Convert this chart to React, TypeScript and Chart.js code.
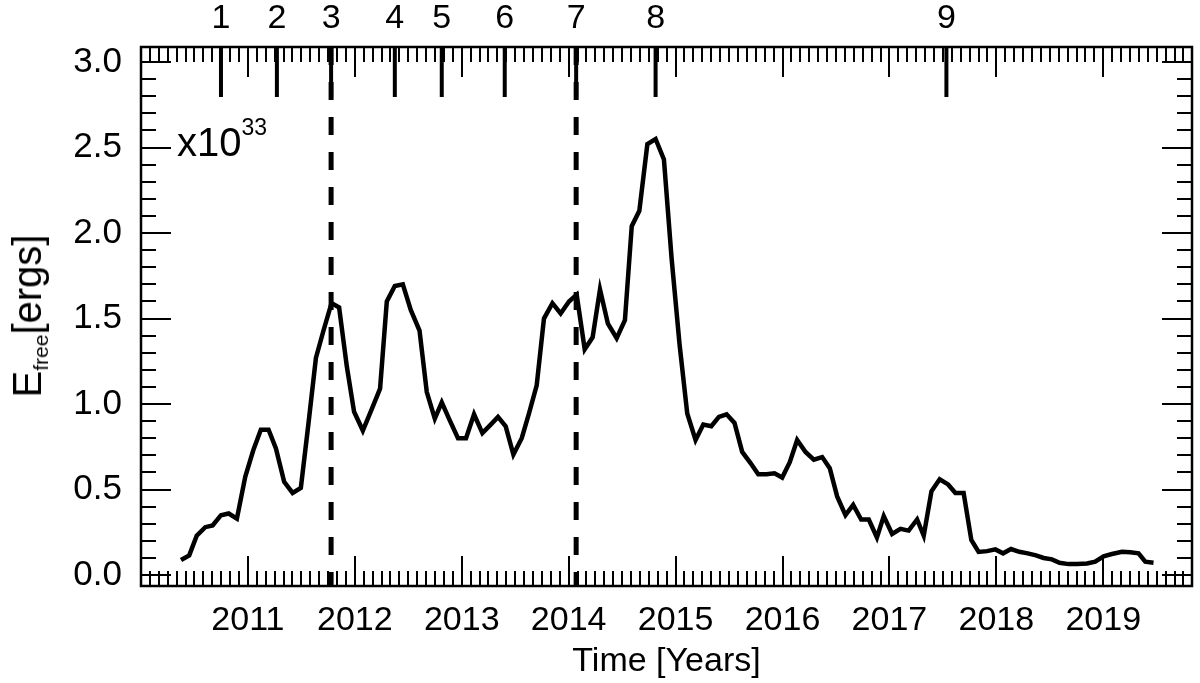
import React, { useEffect, useRef } from 'react';
import { Chart, registerables } from 'chart.js';

Chart.register(...registerables);

// ---- data ----
const years = [
  2010.374, 2010.451, 2010.521, 2010.601, 2010.670, 2010.748, 2010.820, 2010.897, 2010.975, 2011.050,
  2011.121, 2011.193, 2011.262, 2011.339, 2011.418, 2011.495, 2011.567, 2011.636, 2011.707, 2011.782,
  2011.853, 2011.925, 2011.993, 2012.075, 2012.165, 2012.236, 2012.299, 2012.374, 2012.449, 2012.523,
  2012.605, 2012.673, 2012.748, 2012.813, 2012.891, 2012.965, 2013.040, 2013.115, 2013.193, 2013.271,
  2013.339, 2013.411, 2013.483, 2013.561, 2013.629, 2013.701, 2013.769, 2013.848, 2013.925, 2014.003,
  2014.075, 2014.150, 2014.224, 2014.293, 2014.367, 2014.449, 2014.526, 2014.590, 2014.661, 2014.736,
  2014.813, 2014.891, 2014.963, 2015.037, 2015.109, 2015.187, 2015.259, 2015.334, 2015.405, 2015.477,
  2015.551, 2015.623, 2015.701, 2015.773, 2015.850, 2015.925, 2015.997, 2016.068, 2016.137, 2016.215,
  2016.293, 2016.371, 2016.442, 2016.511, 2016.589, 2016.661, 2016.736, 2016.807, 2016.883, 2016.947,
  2017.025, 2017.103, 2017.180, 2017.259, 2017.321, 2017.393, 2017.470, 2017.549, 2017.617, 2017.694,
  2017.766, 2017.834, 2017.913, 2017.991, 2018.063, 2018.137, 2018.215, 2018.293, 2018.371, 2018.442,
  2018.520, 2018.591, 2018.676, 2018.754, 2018.848, 2018.925, 2019.003, 2019.081, 2019.175, 2019.252,
  2019.330, 2019.393, 2019.470,
];

const efree = [
  0.088, 0.115, 0.23, 0.28, 0.29, 0.35, 0.36, 0.33, 0.575, 0.73,
  0.85, 0.85, 0.74, 0.545, 0.48, 0.51, 0.89, 1.27, 1.43, 1.59,
  1.565, 1.22, 0.955, 0.845, 0.98, 1.09, 1.60, 1.69, 1.70, 1.55,
  1.43, 1.07, 0.915, 1.01, 0.90, 0.80, 0.80, 0.94, 0.83, 0.88,
  0.925, 0.87, 0.705, 0.80, 0.945, 1.11, 1.50, 1.59, 1.53, 1.60,
  1.64, 1.32, 1.39, 1.67, 1.47, 1.385, 1.49, 2.04, 2.13, 2.52,
  2.55, 2.43, 1.85, 1.35, 0.945, 0.79, 0.88, 0.87, 0.925, 0.94,
  0.89, 0.72, 0.655, 0.59, 0.59, 0.595, 0.57, 0.66, 0.79, 0.72,
  0.675, 0.69, 0.625, 0.46, 0.35, 0.41, 0.325, 0.325, 0.22, 0.345,
  0.24, 0.27, 0.26, 0.325, 0.23, 0.49, 0.56, 0.53, 0.48, 0.48,
  0.205, 0.135, 0.14, 0.15, 0.127, 0.152, 0.136, 0.127, 0.115, 0.10,
  0.092, 0.072, 0.064, 0.064, 0.068, 0.078, 0.11, 0.123, 0.136, 0.133,
  0.127, 0.078, 0.072,
];

const eventYears = [2010.748, 2011.271, 2011.778, 2012.374, 2012.813, 2013.402, 2014.07, 2014.813, 2017.533];
const eventLabels = ['1', '2', '3', '4', '5', '6', '7', '8', '9'];
const dashedEvents = [2011.778, 2014.07];

const yearTicks = [2011, 2012, 2013, 2014, 2015, 2016, 2017, 2018, 2019];
const valueTicks = [0, 0.5, 1.0, 1.5, 2.0, 2.5, 3.0];

const X_MIN = 2010.0;
const X_MAX = 2019.83;
const Y_MIN = -0.064;
const Y_MAX = 3.088;

const FONT = "'Liberation Sans', Arial, Helvetica, sans-serif";

const frameTicks = {
  id: 'frameTicks',
  afterDatasetsDraw(chart: any) {
    const { ctx, chartArea: a, scales } = chart;
    const xs = scales.x;
    const ys = scales.y;
    ctx.save();
    ctx.strokeStyle = '#000';
    ctx.lineCap = 'butt';
    ctx.lineWidth = 2;
    ctx.beginPath();
    // month / year ticks, bottom and top
    for (let yr = 2010; yr <= 2020; yr++) {
      for (let m = 0; m < 12; m++) {
        const v = yr + m / 12;
        if (v < X_MIN - 1e-6 || v > X_MAX + 1e-6) continue;
        const px = Math.round(xs.getPixelForValue(v));
        const len = m === 0 ? 30 : 15;
        ctx.moveTo(px, a.bottom);
        ctx.lineTo(px, a.bottom - len);
        ctx.moveTo(px, a.top);
        ctx.lineTo(px, a.top + len);
      }
    }
    // value ticks, left and right
    for (let i = 0; i <= 31; i++) {
      const v = i / 10;
      if (v > Y_MAX) break;
      const py = Math.round(ys.getPixelForValue(v));
      const len = i % 5 === 0 ? 30 : 15;
      ctx.moveTo(a.left, py);
      ctx.lineTo(a.left + len, py);
      ctx.moveTo(a.right, py);
      ctx.lineTo(a.right - len, py);
    }
    ctx.stroke();
    // event ticks
    ctx.lineWidth = 4;
    ctx.beginPath();
    eventYears.forEach((ev) => {
      const px = xs.getPixelForValue(ev);
      ctx.moveTo(px, a.top);
      ctx.lineTo(px, a.top + 50);
    });
    ctx.stroke();
    // frame
    ctx.lineWidth = 2.5;
    ctx.strokeRect(a.left, a.top, a.right - a.left, a.bottom - a.top);
    ctx.restore();
  },
};

export default function App() {
  const ref = useRef<HTMLCanvasElement | null>(null);

  useEffect(() => {
    if (!ref.current) return;
    const lineData = years.map((x, i) => ({ x, y: efree[i] }));
    const dashSets = dashedEvents.map((ev) => ({
      data: [
        { x: ev, y: Y_MAX },
        { x: ev, y: Y_MIN },
      ],
      borderColor: '#000',
      borderWidth: 5,
      borderDash: [18, 17],
      pointRadius: 0,
      fill: false,
      tension: 0,
    }));
    const chart = new Chart(ref.current, {
      type: 'line',
      data: {
        datasets: [
          {
            data: lineData,
            borderColor: '#000',
            borderWidth: 4.5,
            borderJoinStyle: 'miter',
            pointRadius: 0,
            fill: false,
            tension: 0,
          },
          ...dashSets,
        ],
      },
      options: {
        responsive: false,
        animation: false,
        events: [],
        layout: { padding: { left: 0, right: 8, top: 0, bottom: 0 } },
        plugins: { legend: { display: false }, tooltip: { enabled: false }, title: { display: false } },
        scales: {
          x: {
            type: 'linear',
            position: 'bottom',
            min: X_MIN,
            max: X_MAX,
            afterFit: (s: any) => { s.height = 97; },
            afterBuildTicks: (s: any) => { s.ticks = yearTicks.map((v) => ({ value: v })); },
            grid: { display: false, drawTicks: false },
            border: { display: false },
            ticks: {
              color: '#000',
              font: { family: FONT, size: 34 },
              padding: 14,
              maxRotation: 0,
              autoSkip: false,
              callback: (v: any) => String(v),
            },
            title: {
              display: true,
              text: 'Time [Years]',
              color: '#000',
              font: { family: FONT, size: 34 },
              padding: { top: 0, bottom: 1 },
            },
          },
          x2: {
            type: 'linear',
            position: 'top',
            min: X_MIN,
            max: X_MAX,
            afterFit: (s: any) => { s.height = 47; },
            afterBuildTicks: (s: any) => { s.ticks = eventYears.map((v) => ({ value: v })); },
            grid: { display: false, drawTicks: false },
            border: { display: false },
            ticks: {
              color: '#000',
              font: { family: FONT, size: 34 },
              padding: 8,
              maxRotation: 0,
              autoSkip: false,
              callback: (_v: any, i: number) => eventLabels[i],
            },
          },
          y: {
            type: 'linear',
            position: 'left',
            min: Y_MIN,
            max: Y_MAX,
            afterFit: (s: any) => { s.width = 141; },
            afterBuildTicks: (s: any) => { s.ticks = valueTicks.map((v) => ({ value: v })); },
            grid: { display: false, drawTicks: false },
            border: { display: false },
            ticks: {
              color: '#000',
              font: { family: FONT, size: 35 },
              padding: 19,
              callback: (v: any) => Number(v).toFixed(1),
            },
          },
        },
      },
      plugins: [frameTicks],
    } as any);
    return () => chart.destroy();
  }, []);

  return (
    <div style={{ position: 'fixed', left: 0, top: 0, width: 1200, height: 683, background: '#fff', fontFamily: FONT, color: '#000' }}>
      <canvas ref={ref} width={1200} height={683} style={{ width: 1200, height: 683, display: 'block' }} />
      <div
        style={{
          position: 'absolute',
          left: 27,
          top: 316,
          transform: 'translate(-50%, -50%) rotate(-90deg)',
          whiteSpace: 'nowrap',
          fontSize: 40,
          lineHeight: 1,
        }}
      >
        E<span style={{ fontSize: 21, position: 'relative', top: 7 }}>free</span>[ergs]
      </div>
      <div
        style={{
          position: 'absolute',
          left: 177,
          top: 122,
          whiteSpace: 'nowrap',
          fontSize: 40,
          lineHeight: 1,
        }}
      >
        x10<span style={{ fontSize: 23, position: 'relative', top: -21 }}>33</span>
      </div>
    </div>
  );
}
